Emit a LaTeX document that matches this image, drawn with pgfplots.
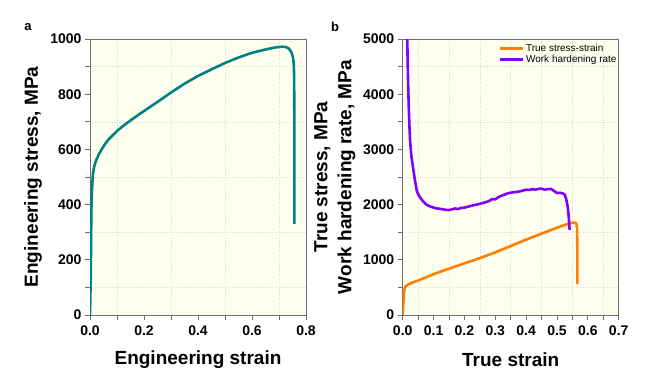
\documentclass[border=0pt]{standalone}
\usepackage{pgfplots}
\pgfplotsset{compat=1.18}
\usepackage{fontspec}
\setmainfont{Liberation Sans}
\definecolor{teal2}{RGB}{0,128,128}
\definecolor{orng}{RGB}{255,128,0}
\definecolor{purp}{RGB}{128,0,255}
\definecolor{bgy}{RGB}{255,255,240}
\definecolor{frame}{RGB}{110,110,110}
\pgfplotsset{
  myax/.style={
    scale only axis, width=216pt, height=276pt, anchor=origin,
    axis background/.style={fill=bgy},
    axis line style={frame, line width=0.9pt},
    tick align=outside, tick pos=left,
    major tick length=5pt, minor tick length=5pt,
    every tick/.style={frame, line width=0.9pt},
    minor tick num=1,
    xminorgrids, yminorgrids,
    minor grid style={dotted, gray!30, line width=0.5pt},
    ticklabel style={font=\fontsize{14}{16}\selectfont\bfseries},
    xticklabel style={yshift=-2pt},
    /pgf/number format/assume math mode=true,
    /pgf/number format/1000 sep={},
    xticklabel={\textbf{\pgfmathprintnumber[assume math mode=true,fixed,fixed zerofill,precision=1]{\tick}}},
    yticklabel={\textbf{\pgfmathprintnumber[assume math mode=true,fixed,precision=0]{\tick}}},
    scaled y ticks=false, scaled x ticks=false,
    label style={font=\fontsize{19}{24}\selectfont\bfseries},
    xlabel style={at={(axis description cs:0.5,-0.163)}, anchor=center},
    ymin=0, xmin=0,
    clip=true,
  }
}
\begin{document}
\begin{tikzpicture}[x=1pt,y=1pt]
\path[use as bounding box] (0,0) rectangle (647,386);
\begin{axis}[myax, at={(90pt,71pt)},
  xmax=0.8, ymax=1000,
  xtick={0,0.2,...,0.8}, ytick={0,200,...,1000},
  xlabel={Engineering strain}, ylabel={Engineering stress, MPa},
  ylabel style={at={(axis description cs:-0.264,0.5)}, anchor=center},
]
\addplot[teal2, line width=2.6pt, line join=round] coordinates {
(0,0) (0.003,150) (0.005,380) (0.007,450) (0.011,513) (0.016,540) (0.023,561)
(0.032,581) (0.042,598) (0.054,617) (0.067,634) (0.085,652) (0.104,670)
(0.128,689) (0.153,707) (0.185,729) (0.215,749) (0.25,772) (0.3,806)
(0.35,838) (0.4,866) (0.45,890) (0.5,913) (0.55,933) (0.6,950) (0.65,962)
(0.69,970) (0.71,972) (0.725,971) (0.737,965) (0.746,952) (0.752,932)
(0.755,905) (0.756,860) (0.757,700) (0.757,330)
};
\end{axis}
\node[font=\fontsize{13}{15}\selectfont\bfseries] at (28,359) {a};
\begin{axis}[myax, at={(402.7pt,71pt)},
  xmax=0.7, ymax=5000,
  xtick={0,0.1,...,0.7}, ytick={0,1000,...,5000},
  xlabel={True strain}, ylabel={True stress, MPa\\Work hardening rate, MPa},
  ylabel style={at={(axis description cs:-0.314,0.5)}, anchor=center, align=center},
  legend style={at={(rel axis cs:1,0.99)}, anchor=north east, draw=none, fill=none,
    font=\fontsize{10}{11}\selectfont, row sep=-1.5pt, inner sep=0pt,
    /tikz/every even column/.append style={column sep=1pt}},
  legend cell align=left,
  legend image code/.code={\draw[#1, line width=2.6pt] (0,0) -- (23pt,0);},
]
\addplot[orng, line width=2.6pt, line join=round] coordinates {
(0,0) (0.003,300) (0.005,450) (0.008,505) (0.012,530) (0.02,560) (0.03,585)
(0.05,625) (0.075,680) (0.1,740) (0.15,840) (0.2,935) (0.25,1030) (0.3,1135)
(0.35,1250) (0.4,1365) (0.45,1475) (0.5,1580) (0.53,1640) (0.55,1672)
(0.558,1675) (0.563,1650) (0.565,1580) (0.566,1200) (0.566,560)
};
\addlegendentry{True stress-strain}
\addplot[purp, line width=2.6pt, line join=round] coordinates {
(0.014,5300) (0.016,4600) (0.018,4100) (0.020,3700) (0.022,3400) (0.024,3150)
(0.028,2880) (0.033,2690) (0.04,2430) (0.046,2240) (0.052,2170) (0.06,2100)
(0.07,2035) (0.078,1995) (0.09,1965) (0.1,1945) (0.11,1930) (0.12,1925) (0.13,1915)
(0.14,1905) (0.15,1902) (0.16,1915) (0.17,1930) (0.18,1920) (0.19,1940)
(0.2,1945) (0.21,1960) (0.22,1975) (0.23,1990) (0.24,2000) (0.25,2015)
(0.26,2030) (0.27,2045) (0.28,2065) (0.29,2100) (0.3,2095) (0.31,2135)
(0.32,2160) (0.33,2180) (0.34,2204) (0.35,2215) (0.36,2225) (0.37,2230)
(0.38,2240) (0.39,2255) (0.4,2270) (0.41,2265) (0.42,2280) (0.43,2270)
(0.44,2285) (0.45,2290) (0.46,2270) (0.47,2280) (0.48,2285) (0.49,2250)
(0.5,2210) (0.51,2215) (0.52,2200) (0.525,2180) (0.53,2100) (0.535,1950)
(0.538,1780) (0.541,1540)
};
\addlegendentry{Work hardening rate}
\end{axis}
\node[font=\fontsize{13}{15}\selectfont\bfseries] at (335,359) {b};
\end{tikzpicture}
\end{document}
